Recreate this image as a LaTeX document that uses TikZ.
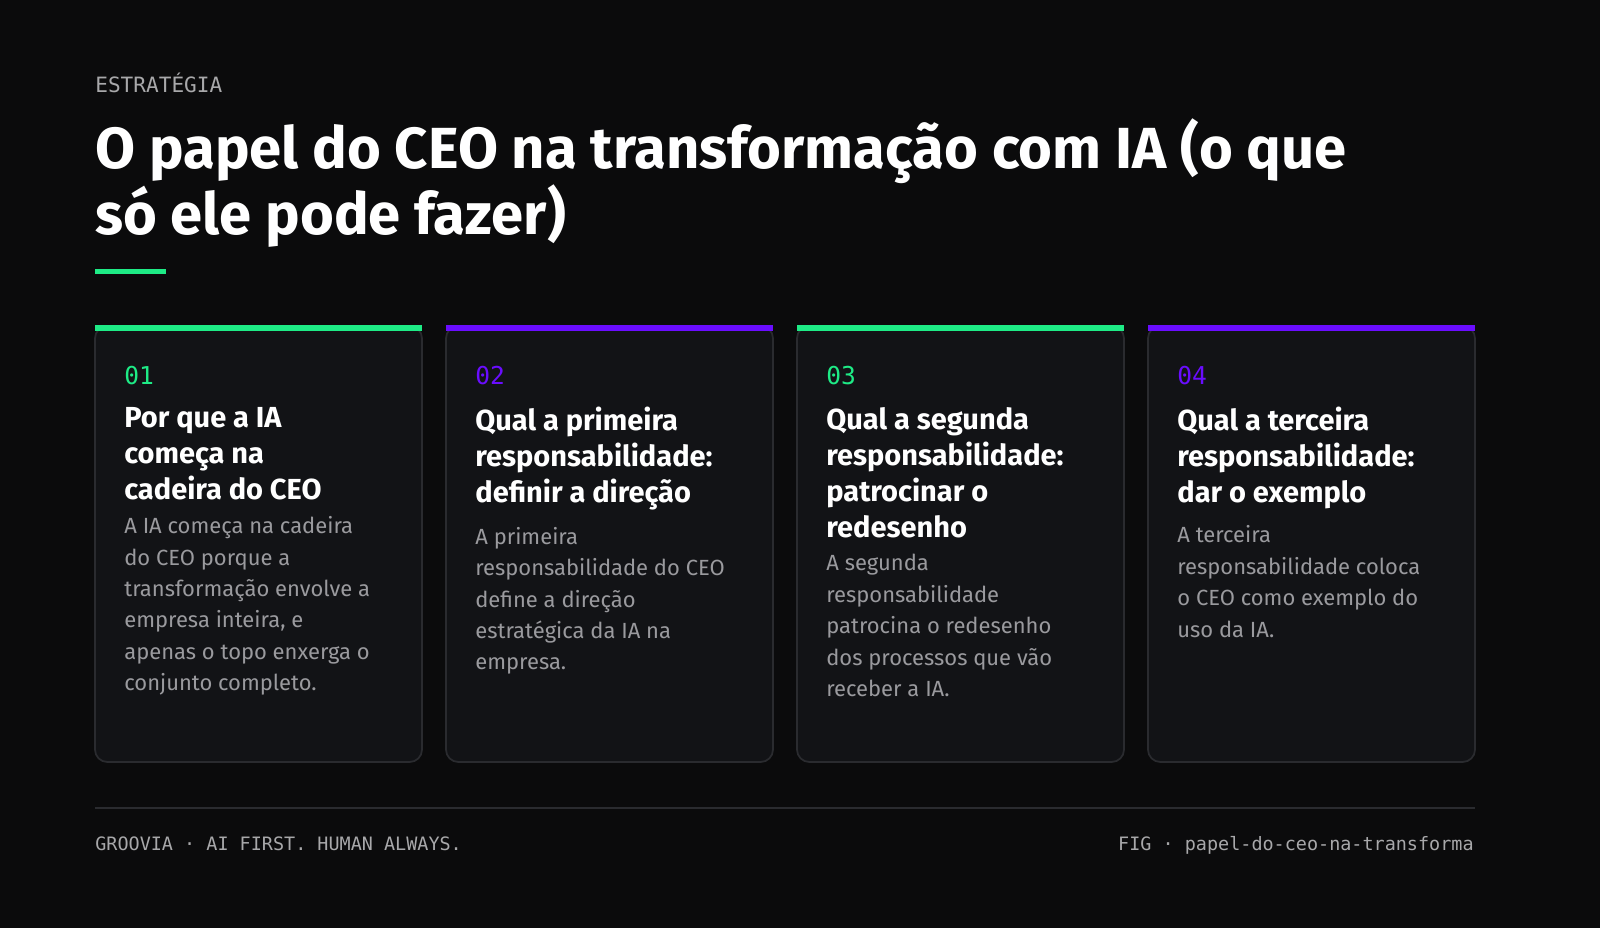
\documentclass[tikz,border=0pt]{standalone}
\usepackage{fontspec}
\setmainfont{Fira Sans}
\setmonofont{DejaVu Sans Mono}
\usetikzlibrary{positioning}
\definecolor{bgdark}{HTML}{0B0B0C}
\definecolor{cardbg}{HTML}{121316}
\definecolor{cardline}{HTML}{2A2B2F}
\definecolor{accgreen}{HTML}{1EEB86}
\definecolor{accpurple}{HTML}{6A0DFF}
\definecolor{bodygray}{HTML}{9A9A9E}
\definecolor{labelgray}{HTML}{A8A8AA}
\tikzset{
  card/.style={draw=cardline, line width=1pt, fill=cardbg, rounded corners=7pt},
  num/.style={anchor=base west, inner sep=0pt, font=\ttfamily\fontsize{14}{14}\selectfont},
  head/.style={anchor=north west, inner sep=0pt, align=left, text=white,
    font=\fontsize{16.5}{20.5}\selectfont\bfseries},
  body/.style={anchor=north west, inner sep=0pt, align=left, text=bodygray,
    font=\fontsize{12.5}{17.9}\selectfont\addfontfeatures{Weight=300}},
  foot/.style={inner sep=0pt, text=labelgray, font=\ttfamily\fontsize{10.5}{10.5}\selectfont}
}
\begin{document}
\begin{tikzpicture}[x=0.02cm,y=-0.02cm]
  \fill[bgdark] (0,0) rectangle (1600,928);
  \useasboundingbox (0,0) rectangle (1600,928);

  % header
  \node[foot, anchor=base west, font=\ttfamily\fontsize{12}{12}\selectfont] (kicker) at (95,93) {ESTRATÉGIA};
  \node[anchor=north west, inner sep=0pt, align=left, text=white,
    font=\fontsize{33}{37.5}\selectfont\bfseries] (title) at (95,118)
    {O papel do CEO na transformação com IA (o que\\só ele pode fazer)};
  \fill[accgreen] (95,269) rectangle (166,274);

  % cards
  \foreach \i/\x/\c/\n/\h/\b in {
    1/95/accgreen/01/{Por que a IA\\começa na\\cadeira do CEO}/{A IA começa na cadeira\\do CEO porque a\\transformação envolve a\\empresa inteira, e\\apenas o topo enxerga o\\conjunto completo.},
    2/446/accpurple/02/{Qual a primeira\\responsabilidade:\\definir a direção}/{A primeira\\responsabilidade do CEO\\define a direção\\estratégica da IA na\\empresa.},
    3/797/accgreen/03/{Qual a segunda\\responsabilidade:\\patrocinar o\\redesenho}/{A segunda\\responsabilidade\\patrocina o redesenho\\dos processos que vão\\receber a IA.},
    4/1148/accpurple/04/{Qual a terceira\\responsabilidade:\\dar o exemplo}/{A terceira\\responsabilidade coloca\\o CEO como exemplo do\\uso da IA.}}{
    \draw[card] (\x,326) rectangle ++(327,436);
    \fill[\c] (\x,325) rectangle ++(327,6);
    \node[num, text=\c] (num\i) at (\x+29,385) {\n};
    \node[head] (head\i) at (\x+29,407) {\h};
    \node[body, below=9pt of head\i.south west, anchor=north west] (body\i) {\b};
  }

  % footer
  \draw[cardline, line width=1pt] (95,808) -- (1475,808);
  \node[foot, anchor=base west] (brand) at (95,851) {GROOVIA · AI FIRST. HUMAN ALWAYS.};
  \node[foot, anchor=base east] (fig) at (1474,851) {FIG · papel-do-ceo-na-transforma};
\end{tikzpicture}
\end{document}
